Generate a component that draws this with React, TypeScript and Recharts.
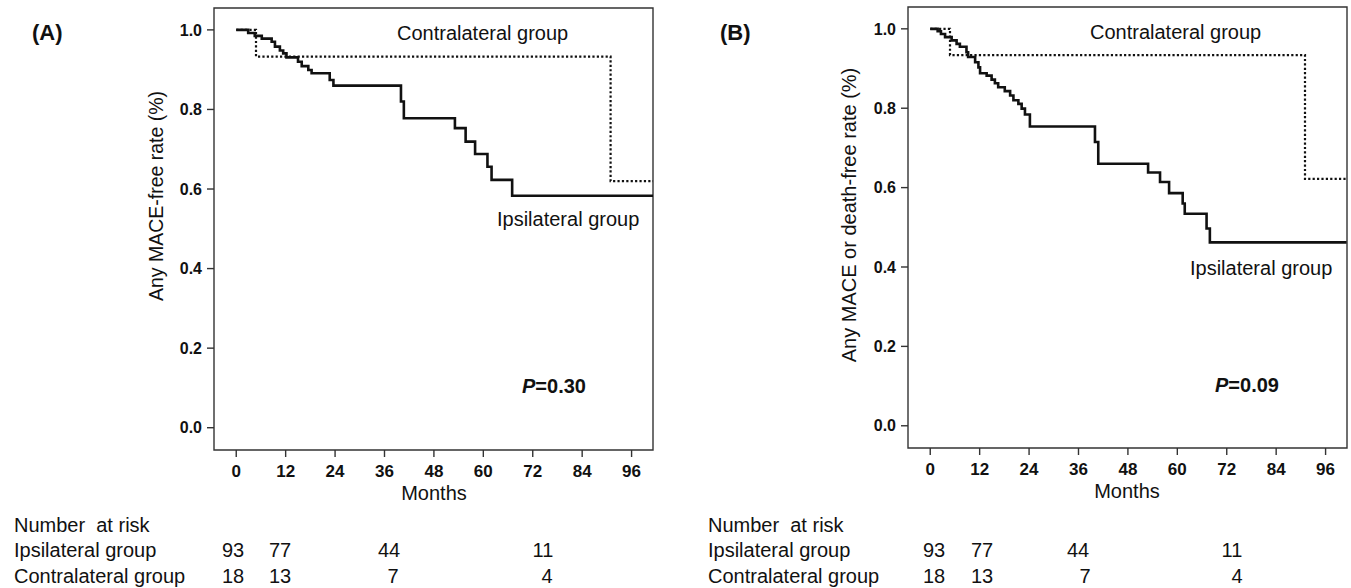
import { LineChart, Line, XAxis, YAxis, ReferenceArea } from 'recharts'

// month ticks and survival ticks
const monthTicks = [0, 12, 24, 36, 48, 60, 72, 84, 96]
const rateTicks = [0, 0.2, 0.4, 0.6, 0.8, 1.0]
const xDomain = [-5.4, 101.2]
const yDomain = [-0.056, 1.055]

// (A) any MACE-free
const ipsiATime = [0, 2.9, 4.5, 6.2, 8.6, 9.4, 10.6, 11.4, 12.2, 15.0, 15.9, 17.5, 18.3, 22.7, 23.6, 40.0, 40.7, 53.1, 55.7, 58.0, 61.0, 62.0, 67.0, 101.2]
const ipsiARate = [1.0, 0.992, 0.985, 0.978, 0.97, 0.958, 0.948, 0.941, 0.931, 0.92, 0.909, 0.899, 0.891, 0.874, 0.86, 0.82, 0.778, 0.753, 0.719, 0.688, 0.656, 0.623, 0.583, 0.583]
const contraATime = [0, 4.8, 90.9, 101.2]
const contraARate = [1.0, 0.933, 0.62, 0.62]

// (B) any MACE or death-free
const ipsiBTime = [0, 1.8, 2.6, 3.6, 5.2, 6.4, 7.2, 8.8, 9.2, 10.9, 11.7, 12.1, 13.7, 14.9, 15.7, 16.5, 18.1, 19.4, 20.2, 21.4, 22.2, 23.0, 24.2, 40.0, 40.8, 52.9, 55.8, 58.0, 61.3, 61.8, 67.1, 67.9, 101.1]
const ipsiBRate = [1.0, 0.994, 0.987, 0.979, 0.971, 0.962, 0.955, 0.941, 0.929, 0.916, 0.903, 0.888, 0.882, 0.872, 0.863, 0.853, 0.843, 0.832, 0.82, 0.811, 0.799, 0.784, 0.754, 0.715, 0.66, 0.638, 0.614, 0.586, 0.56, 0.534, 0.497, 0.462, 0.462]
const contraBTime = [0, 4.8, 91.0, 101.1]
const contraBRate = [1.0, 0.934, 0.622, 0.622]

// number at risk
const riskIpsi = [93, 77, 44, 11]
const riskContra = [18, 13, 7, 4]

const FONT = 'Liberation Sans, Arial, sans-serif'
const INK = '#111'

const toSteps = (t: number[], r: number[]) => t.map((m, i) => ({ month: m, rate: r[i] }))

function KmPanel({ ipsi, contra, left, top, bottom }: any) {
  return (
    <div style={{ position: 'absolute', left, top: 0 }}>
      <LineChart width={680} height={588} margin={{ top, right: 27, bottom, left: 154 }}>
        <XAxis
          type="number"
          dataKey="month"
          domain={xDomain}
          ticks={monthTicks}
          interval={0}
          allowDataOverflow
          height={40}
          axisLine={false}
          tickSize={7}
          tickMargin={8}
          tickLine={{ stroke: '#333', strokeWidth: 1.4 }}
          tick={{ fill: INK, fontSize: 17, fontWeight: 'bold', fontFamily: FONT }}
        />
        <YAxis
          type="number"
          domain={yDomain}
          ticks={rateTicks}
          interval={0}
          allowDataOverflow
          width={60}
          axisLine={false}
          tickSize={7}
          tickMargin={5}
          tickFormatter={(v) => v.toFixed(1)}
          tickLine={{ stroke: '#333', strokeWidth: 1.4 }}
          tick={{ fill: INK, fontSize: 16, fontWeight: 'bold', fontFamily: FONT }}
        />
        <ReferenceArea
          x1={xDomain[0]}
          x2={xDomain[1]}
          y1={yDomain[0]}
          y2={yDomain[1]}
          fill="none"
          fillOpacity={0}
          stroke="#333"
          strokeWidth={1.4}
          ifOverflow="visible"
        />
        <Line
          data={contra}
          dataKey="rate"
          type="stepAfter"
          stroke={INK}
          strokeWidth={2.2}
          strokeDasharray="2.2 2.2"
          dot={false}
          isAnimationActive={false}
        />
        <Line
          data={ipsi}
          dataKey="rate"
          type="stepAfter"
          stroke={INK}
          strokeWidth={2.6}
          dot={false}
          isAnimationActive={false}
        />
      </LineChart>
    </div>
  )
}

const txt = { fontFamily: FONT, fill: INK }

export default function App() {
  const colsA = [233, 280, 389, 543]
  const colsA2 = [233, 280, 393, 547]
  const colsB = [934, 982, 1078, 1232]
  const colsB2 = [934, 982, 1085, 1237]
  return (
    <div style={{ position: 'absolute', left: 0, top: 0, width: 1351, height: 588, background: '#fff' }}>
      <KmPanel ipsi={toSteps(ipsiATime, ipsiARate)} contra={toSteps(contraATime, contraARate)} left={0} top={8} bottom={98} />
      <KmPanel ipsi={toSteps(ipsiBTime, ipsiBRate)} contra={toSteps(contraBTime, contraBRate)} left={694} top={7} bottom={100} />
      <svg width={1351} height={588} style={{ position: 'absolute', left: 0, top: 0, pointerEvents: 'none' }}>
        <text x={32} y={40} fontSize={22} fontWeight="bold" {...txt}>(A)</text>
        <text x={720} y={40} fontSize={22} fontWeight="bold" {...txt}>(B)</text>

        <text transform="translate(163,196) rotate(-90)" textAnchor="middle" fontSize={19.5} {...txt}>Any MACE-free rate (%)</text>
        <text transform="translate(856,215) rotate(-90)" textAnchor="middle" fontSize={20} {...txt}>Any MACE or death-free rate (%)</text>

        <text x={397} y={39.5} fontSize={20} {...txt}>Contralateral group</text>
        <text x={497} y={226} fontSize={20} {...txt}>Ipsilateral group</text>
        <text x={522} y={392.5} fontSize={20} fontWeight="bold" {...txt}><tspan fontStyle="italic">P</tspan>=0.30</text>

        <text x={1090} y={39} fontSize={20} {...txt}>Contralateral group</text>
        <text x={1190} y={274.5} fontSize={20} {...txt}>Ipsilateral group</text>
        <text x={1215} y={391.5} fontSize={20} fontWeight="bold" {...txt}><tspan fontStyle="italic">P</tspan>=0.09</text>

        <text x={434} y={500} textAnchor="middle" fontSize={20} {...txt}>Months</text>
        <text x={1127} y={498} textAnchor="middle" fontSize={20} {...txt}>Months</text>

        {[0, 694].map((dx) => (
          <g key={dx}>
            <text x={14 + dx} y={532} fontSize={20} xmlSpace="preserve" {...txt}>Number  at risk</text>
            <text x={14 + dx} y={557} fontSize={20} {...txt}>Ipsilateral group</text>
            <text x={14 + dx} y={583} fontSize={20} {...txt}>Contralateral group</text>
          </g>
        ))}
        {riskIpsi.map((n, i) => (
          <text key={'ai' + i} x={colsA[i]} y={557} textAnchor="middle" fontSize={20} {...txt}>{n}</text>
        ))}
        {riskContra.map((n, i) => (
          <text key={'ac' + i} x={colsA2[i]} y={583} textAnchor="middle" fontSize={20} {...txt}>{n}</text>
        ))}
        {riskIpsi.map((n, i) => (
          <text key={'bi' + i} x={colsB[i]} y={557} textAnchor="middle" fontSize={20} {...txt}>{n}</text>
        ))}
        {riskContra.map((n, i) => (
          <text key={'bc' + i} x={colsB2[i]} y={583} textAnchor="middle" fontSize={20} {...txt}>{n}</text>
        ))}
      </svg>
    </div>
  )
}
